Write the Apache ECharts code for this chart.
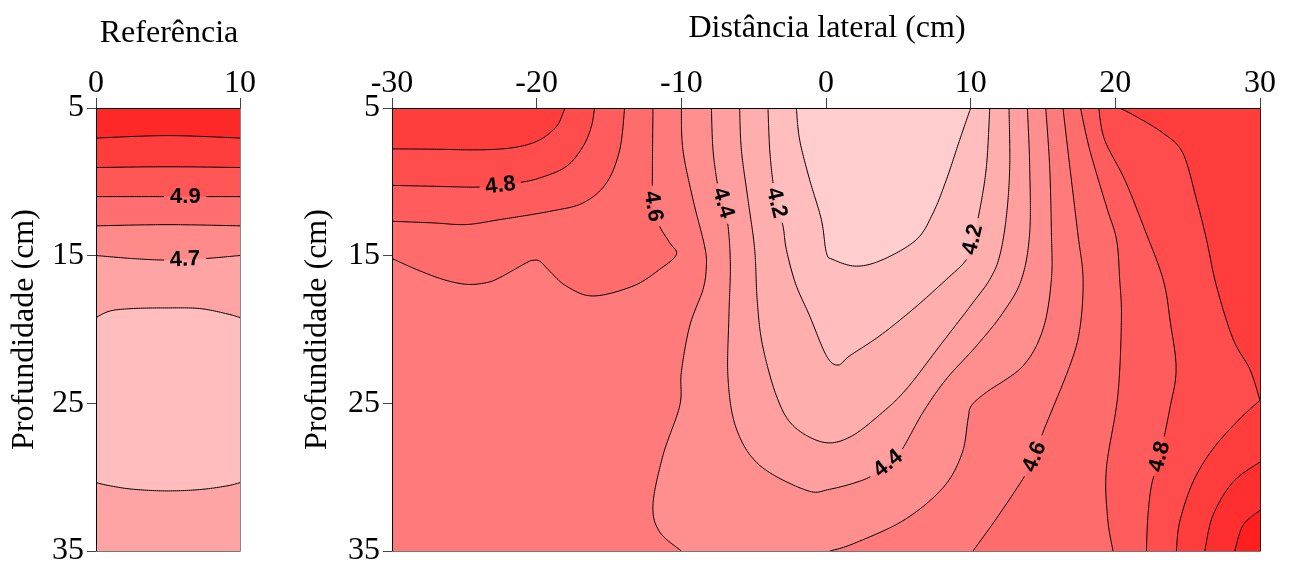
<!DOCTYPE html>
<html lang="pt">
<head>
<meta charset="utf-8">
<title>Perfil de pH do solo</title>
<script src="https://cdn.jsdelivr.net/npm/echarts@6.0.0/dist/echarts.min.js"></script>
<style>
html, body { margin: 0; padding: 0; background: #fff; }
#chart { width: 1293px; height: 567px; }
</style>
</head>
<body>
<div id="chart"></div>
<script>
// ---------------- axes ----------------
const refXRange = [0, 10];      // Referência, cm
const latXRange = [-30, 30];    // Distância lateral, cm
const depthRange = [5, 35];     // Profundidade, cm

// ---------------- isolines: [x, depth] ----------------
// Referência
const ref51  = [[0, 7.04], [2.5, 6.93], [5, 6.87], [7.5, 6.93], [10, 7.04]];
const ref50  = [[0, 9.03], [5, 8.98], [10, 9.03]];
const ref49  = [[0, 11.0], [5, 11.0], [10, 11.0]];
const ref48  = [[0, 12.98], [5, 12.9], [10, 12.98]];
const ref47  = [[0, 14.99], [2.6, 15.2], [5, 15.3], [7.5, 15.2], [10, 14.99]];
const ref46a = [[0, 19.19], [1, 18.74], [2.6, 18.58], [4.9, 18.54], [7.2, 18.58], [9.1, 18.94], [10, 19.19]];
const ref46b = [[0, 30.37], [1, 30.59], [2.6, 30.82], [4.9, 30.93], [7.2, 30.84], [9.1, 30.59], [10, 30.37]];

// Distância lateral
const lat41 = [[-2.05, 5], [-1.82, 7.16], [-1.13, 9.86], [-0.32, 12.56], [0.03, 14.8], [0.48, 15.26],
  [2.1, 15.71], [3.94, 15.26], [6.25, 13.91], [7.4, 12.11], [8.32, 9.86], [9.24, 7.16], [10.0, 5]];
const lat42 = [[-4.01, 5], [-3.89, 7.83], [-3.66, 10.08], [-3.43, 11.43], [-2.97, 13.01], [-2.74, 14.58],
  [-2.1, 16.9], [-1.13, 19.08], [0.03, 21.78], [0.83, 22.41], [1.64, 21.78], [3.71, 20.43], [6.01, 18.63],
  [8.32, 16.61], [9.71, 15.26], [10.16, 13.91], [10.63, 11.88], [11.09, 8.96], [11.32, 5]];
const lat43 = [[-5.97, 5], [-5.85, 7.83], [-5.39, 11.21], [-4.93, 14.58], [-4.76, 17.96], [-4.4, 21.0],
  [-3.43, 24.48], [-2.28, 26.5], [-0.21, 27.63], [1.64, 27.29], [3.8, 25.7], [5.56, 24.03], [7.86, 21.11],
  [10.16, 18.18], [11.32, 16.61], [12.0, 15.03], [12.47, 12.33], [12.7, 8.96], [12.65, 5]];
const lat44 = [[-7.92, 5], [-7.81, 7.83], [-7.47, 10.31], [-7.12, 11.43], [-6.77, 13.01], [-6.61, 15.71],
  [-6.71, 19.08], [-6.77, 23.35], [-6.19, 26.73], [-4.58, 29.2], [-1.35, 30.89], [0.26, 30.82], [2.79, 30.1],
  [4.29, 29.09], [5.21, 28.19], [6.71, 25.6], [8.32, 23.35], [10.4, 21.11], [12.24, 18.85], [13.51, 16.61],
  [14.08, 13.45], [14.08, 8.96], [13.92, 5]];
const lat45a = [[-10.0, 5], [-9.89, 7.83], [-9.19, 11.21], [-8.39, 14.36], [-8.27, 15.71], [-8.5, 17.28],
  [-9.42, 19.76], [-10.0, 22.9], [-10.11, 25.16], [-11.27, 28.53], [-11.96, 31.9], [-11.5, 33.7], [-10.0, 35]];
const lat45b = [[15.19, 5], [15.46, 8.96], [15.58, 13.45], [15.58, 16.61], [15.0, 19.98], [13.62, 22.46],
  [11.09, 24.25], [10.05, 25.16], [9.82, 26.05], [9.4, 28.4], [8.1, 30.7], [5.4, 32.9], [1.9, 34.5], [0.26, 35]];
const lat46a = [[-30, 15.19], [-28.32, 15.93], [-26.47, 16.61], [-24.86, 16.94], [-23.48, 16.83], [-22.56, 16.49],
  [-20.71, 15.48], [-20.26, 15.32], [-19.79, 15.37], [-19.1, 16.05], [-17.95, 17.06], [-16.11, 17.73],
  [-13.34, 17.06], [-11.5, 15.93], [-10.34, 14.92], [-10.8, 14.13], [-11.5, 13.01], [-11.96, 11.66],
  [-12.0, 9.41], [-11.96, 5]];
const lat46b = [[16.38, 5], [16.85, 8.96], [17.4, 13.45], [17.77, 16.61], [17.54, 19.98], [16.85, 22.46],
  [15.0, 26.95], [14.43, 28.62], [13.62, 30.1], [11.78, 32.8], [10.16, 35]];
const lat47a = [[-30, 12.67], [-27.17, 12.78], [-24.86, 12.89], [-22.56, 12.56], [-19.1, 12.0], [-16.8, 11.43],
  [-15.18, 10.08], [-14.26, 7.83], [-13.92, 5]];
const lat47b = [[17.59, 5], [18.23, 7.83], [19.38, 11.66], [20.08, 13.91], [20.3, 16.61], [20.42, 19.31],
  [20.17, 24.48], [19.38, 29.43], [19.47, 32.8], [19.84, 35]];
const lat48a = [[-30, 10.24], [-27.17, 10.3], [-23.71, 10.35], [-21.4, 10.08], [-19.79, 9.74], [-17.95, 8.96],
  [-16.8, 7.61], [-16.22, 6.26], [-16.0, 5]];
const lat48b = [[18.85, 5], [19.26, 7.16], [20.65, 9.86], [22.03, 13.23], [23.3, 16.61], [23.8, 19.5],
  [24.2, 22.7], [23.76, 25.38], [23.07, 28.62], [22.5, 30.55], [22.24, 32.8], [22.15, 35]];
const lat49a = [[-30, 7.77], [-27.17, 7.79], [-23.71, 7.83], [-21.4, 7.65], [-19.79, 7.16], [-18.64, 6.26],
  [-18.18, 5.36], [-18.06, 5]];
const lat49b = [[20.3, 5], [21.46, 5.59], [23.28, 6.69], [24.66, 8.04], [25.61, 11.21], [26.3, 13.91],
  [26.99, 17.06], [28.14, 20.65], [29.3, 22.7], [30, 24.8], [28.6, 26.05], [26.75, 28.08], [25.37, 30.32],
  [24.45, 33.02], [24.22, 35]];
const lat50 = [[30, 28.97], [28.14, 30.32], [26.75, 32.58], [26.18, 35]];
const lat51 = [[30, 32.24], [28.83, 33.25], [28.25, 35]];

// isoline labels: [value, x, depth]
const refLabels = [[4.9, 6.2, 11.0], [4.7, 6.2, 15.3]];
const latLabels = [[4.8, -22.44, 10.31], [4.6, -11.9, 11.66], [4.4, -7.12, 11.43], [4.2, -3.43, 11.43],
  [4.2, 10.16, 13.91], [4.4, 4.29, 29.09], [4.6, 14.43, 28.62], [4.8, 23.07, 28.62]];

// ---------------- isoline sets ----------------
const refIsolines = [[5.1, ref51], [5.0, ref50], [4.9, ref49], [4.8, ref48], [4.7, ref47], [4.6, ref46a], [4.6, ref46b]];
const latIsolines = [[4.1, lat41], [4.2, lat42], [4.3, lat43], [4.4, lat44], [4.5, lat45a], [4.5, lat45b],
  [4.6, lat46a], [4.6, lat46b], [4.7, lat47a], [4.7, lat47b], [4.8, lat48a], [4.8, lat48b],
  [4.9, lat49a], [4.9, lat49b], [5.0, lat50], [5.1, lat51]];

// band colours keyed by the lower bound of each interval
const refColors = { '4.5': '#ffbdbd', '4.6': '#ffa4a4', '4.7': '#ff8a8a', '4.8': '#ff6f6f',
  '4.9': '#ff5656', '5.0': '#ff3d3d', '5.1': '#ff2828' };
const latColors = { '4.0': '#ffcdcd', '4.1': '#ffbdbd', '4.2': '#ffaeae', '4.3': '#ff9f9f',
  '4.4': '#ff8f8f', '4.5': '#ff7b7b', '4.6': '#ff6c6c', '4.7': '#ff5d5d', '4.8': '#ff4d4d',
  '4.9': '#ff3d3d', '5.0': '#ff2f2f', '5.1': '#ff1f1f' };

// filled areas, painted in order; each closes a region with plot corners
const refFills = [
  { band: 4.6, parts: [], corners: ['tl', 'tr', 'br', 'bl'] },
  { band: 4.7, parts: [[ref47, false]], corners: ['tr', 'tl'] },
  { band: 4.8, parts: [[ref48, false]], corners: ['tr', 'tl'] },
  { band: 4.9, parts: [[ref49, false]], corners: ['tr', 'tl'] },
  { band: 5.0, parts: [[ref50, false]], corners: ['tr', 'tl'] },
  { band: 5.1, parts: [[ref51, false]], corners: ['tr', 'tl'] },
  { band: 4.5, parts: [[ref46a, false], [ref46b, true]], corners: [] }
];
const latFills = [
  { band: 4.5, parts: [], corners: ['tl', 'tr', 'br', 'bl'] },
  { band: 4.6, parts: [[lat46a, false]], corners: ['tl'] },
  { band: 4.6, parts: [[lat46b, false]], corners: ['br', 'tr'] },
  { band: 4.7, parts: [[lat47a, false]], corners: ['tl'] },
  { band: 4.7, parts: [[lat47b, false]], corners: ['br', 'tr'] },
  { band: 4.8, parts: [[lat48a, false]], corners: ['tl'] },
  { band: 4.8, parts: [[lat48b, false]], corners: ['br', 'tr'] },
  { band: 4.9, parts: [[lat49a, false]], corners: ['tl'] },
  { band: 4.9, parts: [[lat49b, false]], corners: ['br', 'tr'] },
  { band: 5.0, parts: [[lat50, false]], corners: ['br'] },
  { band: 5.1, parts: [[lat51, false]], corners: ['br'] },
  { band: 4.4, parts: [[lat45a, false], [lat45b, true]], corners: [] },
  { band: 4.3, parts: [[lat44, false]], corners: [] },
  { band: 4.2, parts: [[lat43, false]], corners: [] },
  { band: 4.1, parts: [[lat42, false]], corners: [] },
  { band: 4.0, parts: [[lat41, false]], corners: [] }
];

// ---------------- geometry helpers ----------------
function cornerOf(name, ext) {
  const x = name[1] === 'l' ? ext.x[0] : ext.x[1];
  const y = name[0] === 't' ? ext.y[0] : ext.y[1];
  return [x, y];
}
function onFrame(p, ext) {
  return p[0] === ext.x[0] || p[0] === ext.x[1] || p[1] === ext.y[0] || p[1] === ext.y[1];
}
// Catmull-Rom through pixel points
function densify(p) {
  if (p.length < 3) return p.slice();
  const out = [];
  for (let i = 0; i < p.length - 1; i++) {
    const p0 = p[Math.max(i - 1, 0)], p1 = p[i], p2 = p[i + 1], p3 = p[Math.min(i + 2, p.length - 1)];
    const n = Math.max(2, Math.ceil(Math.hypot(p2[0] - p1[0], p2[1] - p1[1]) / 2));
    for (let k = 0; k < n; k++) {
      const t = k / n, t2 = t * t, t3 = t2 * t;
      const f = (a, b, c, d) => 0.5 * (2 * b + (-a + c) * t + (2 * a - 5 * b + 4 * c - d) * t2 + (-a + 3 * b - 3 * c + d) * t3);
      out.push([f(p0[0], p1[0], p2[0], p3[0]), f(p0[1], p1[1], p2[1], p3[1])]);
    }
  }
  out.push(p[p.length - 1].slice());
  return out;
}
// smooth path of an isoline; points touching the frame keep a sharp vertex
function trace(line, api, ext) {
  const px = line.map(p => api.coord(p));
  const out = [];
  let start = 0;
  for (let i = 1; i < line.length; i++) {
    if (i === line.length - 1 || onFrame(line[i], ext)) {
      const seg = densify(px.slice(start, i + 1));
      if (out.length) seg.shift();
      out.push(...seg);
      start = i;
    }
  }
  return out;
}
function cut(pts, c, r) {
  const pieces = [];
  let cur = [];
  pts.forEach(p => {
    if (Math.hypot(p[0] - c[0], p[1] - c[1]) < r) {
      if (cur.length > 1) pieces.push(cur);
      cur = [];
    } else cur.push(p);
  });
  if (cur.length > 1) pieces.push(cur);
  return pieces;
}
// attach each label to the nearest isoline of the same value
function assignLabels(isolines, labels) {
  const byLine = isolines.map(() => []);
  labels.forEach(lb => {
    let best = Infinity, idx = -1;
    isolines.forEach(([lvl, line], i) => {
      if (Math.abs(lvl - lb[0]) > 1e-9) return;
      line.forEach(p => {
        const d = (p[0] - lb[1]) ** 2 + (p[1] - lb[2]) ** 2;
        if (d < best) { best = d; idx = i; }
      });
    });
    if (idx >= 0) byLine[idx].push(lb);
  });
  return byLine;
}

function fillSeries(axisIdx, fills, colors, ext) {
  return {
    type: 'custom', coordinateSystem: 'cartesian2d', xAxisIndex: axisIdx, yAxisIndex: axisIdx,
    clip: true, silent: true, z: 1, animation: false,
    data: fills.map(() => [ext.x[0], ext.y[0]]),
    renderItem(params, api) {
      const f = fills[params.dataIndex];
      let pts = [];
      f.parts.forEach(([line, rev]) => {
        let d = trace(line, api, ext);
        if (rev) d = d.reverse();
        pts = pts.concat(d);
      });
      f.corners.forEach(c => pts.push(api.coord(cornerOf(c, ext))));
      return { type: 'polygon', shape: { points: pts }, style: { fill: colors[f.band.toFixed(1)], stroke: 'none' } };
    }
  };
}

function lineSeries(axisIdx, isolines, labels, ext) {
  const byLine = assignLabels(isolines, labels);
  return {
    type: 'custom', coordinateSystem: 'cartesian2d', xAxisIndex: axisIdx, yAxisIndex: axisIdx,
    clip: true, silent: true, z: 3, animation: false,
    data: isolines.map(() => [ext.x[0], ext.y[0]]),
    renderItem(params, api) {
      const [lvl, line] = isolines[params.dataIndex];
      const pts = trace(line, api, ext);
      const children = [];
      let pieces = [pts];
      byLine[params.dataIndex].forEach(lb => {
        const c = api.coord([lb[1], lb[2]]);
        let j = 0, best = Infinity;
        pts.forEach((p, k) => {
          const d = (p[0] - c[0]) ** 2 + (p[1] - c[1]) ** 2;
          if (d < best) { best = d; j = k; }
        });
        const a = pts[Math.max(j - 5, 0)], b = pts[Math.min(j + 5, pts.length - 1)];
        let dx = b[0] - a[0], dy = b[1] - a[1];
        if (dx < 0) { dx = -dx; dy = -dy; }
        const ctr = pts[j];
        pieces = pieces.flatMap(pc => cut(pc, ctr, 20));
        children.push({
          type: 'text', x: ctr[0], y: ctr[1], rotation: -Math.atan2(dy, dx), z2: 10,
          style: {
            text: lvl.toFixed(1), fill: '#000', align: 'center', verticalAlign: 'middle',
            fontSize: 22, fontWeight: 'bold', fontFamily: '"Liberation Sans", Arial, sans-serif'
          }
        });
      });
      pieces.forEach(pc => children.push({
        type: 'polyline', shape: { points: pc }, style: { stroke: '#000', lineWidth: 1, fill: 'none' }
      }));
      return { type: 'group', children };
    }
  };
}

// ---------------- axes ----------------
const serif = '"Liberation Serif", "Times New Roman", serif';
const tickText = { fontFamily: serif, fontSize: 32, color: '#000' };

function topAxis(grid, range, lineColor) {
  return {
    gridIndex: grid, type: 'value', position: 'top', min: range[0], max: range[1], interval: 10, z: 5,
    axisLine: { show: true, onZero: false, lineStyle: { color: lineColor, width: 1 } },
    axisTick: { show: true, inside: false, length: 10, lineStyle: { color: '#444' } },
    axisLabel: Object.assign({ margin: 8 }, tickText),
    splitLine: { show: false }
  };
}
function bottomFrame(grid, range, color) {
  return {
    gridIndex: grid, type: 'value', position: 'bottom', min: range[0], max: range[1], z: 5,
    axisLine: { show: true, onZero: false, lineStyle: { color, width: 1 } },
    axisTick: { show: false }, axisLabel: { show: false }, splitLine: { show: false }
  };
}
function leftAxis(grid, gap) {
  return {
    gridIndex: grid, type: 'value', position: 'left', inverse: true, min: depthRange[0], max: depthRange[1],
    interval: 10, z: 5,
    name: 'Profundidade (cm)', nameLocation: 'middle', nameGap: gap,
    nameTextStyle: { fontFamily: serif, fontSize: 32, color: '#000' },
    axisLine: { show: true, onZero: false, lineStyle: { color: '#000', width: 1 } },
    axisTick: { show: true, inside: false, length: 9, lineStyle: { color: '#444' } },
    axisLabel: Object.assign({ margin: 12 }, tickText),
    splitLine: { show: false }
  };
}
function rightFrame(grid, color) {
  return {
    gridIndex: grid, type: 'value', position: 'right', inverse: true, min: depthRange[0], max: depthRange[1], z: 5,
    axisLine: { show: true, onZero: false, lineStyle: { color, width: 1 } },
    axisTick: { show: false }, axisLabel: { show: false }, splitLine: { show: false }
  };
}

const refExt = { x: refXRange, y: depthRange };
const latExt = { x: latXRange, y: depthRange };

const chart = echarts.init(document.getElementById('chart'), null, { renderer: 'canvas' });
chart.setOption({
  animation: false,
  backgroundColor: '#fff',
  title: [
    { text: 'Referência', left: 164, top: 13, textAlign: 'center',
      textStyle: { fontFamily: serif, fontSize: 32, fontWeight: 'normal', color: '#000' } },
    { text: 'Distância lateral (cm)', left: 822, top: 8, textAlign: 'center',
      textStyle: { fontFamily: serif, fontSize: 32, fontWeight: 'normal', color: '#000' } }
  ],
  grid: [
    { left: 96, top: 108, width: 144, height: 445 },
    { left: 392, top: 108, width: 868, height: 445 }
  ],
  xAxis: [
    topAxis(0, refXRange, '#000'), bottomFrame(0, refXRange, '#777'),
    topAxis(1, latXRange, '#000'), bottomFrame(1, latXRange, '#777')
  ],
  yAxis: [
    leftAxis(0, 55), rightFrame(0, '#888'),
    leftAxis(1, 58), rightFrame(1, '#222')
  ],
  series: [
    fillSeries(0, refFills, refColors, refExt),
    lineSeries(0, refIsolines, refLabels, refExt),
    fillSeries(2, latFills, latColors, latExt),
    lineSeries(2, latIsolines, latLabels, latExt)
  ]
});
</script>
</body>
</html>
